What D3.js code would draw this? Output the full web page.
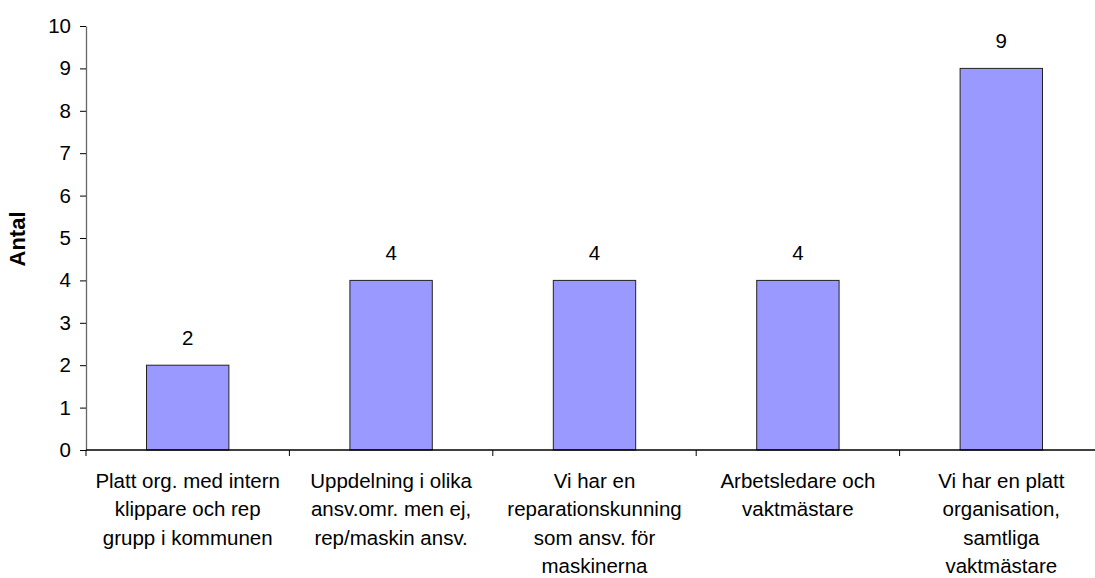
<!DOCTYPE html>
<html><head><meta charset="utf-8">
<script src="https://cdn.jsdelivr.net/npm/d3@7"></script>
<style>
body{margin:0;background:#fff;}
text{font-family:"Liberation Sans",Arial,sans-serif;fill:#000;}
</style></head>
<body><svg id="c" width="1095" height="578"></svg>
<script>
const categories = [
  ["Platt org. med intern","klippare och rep","grupp i kommunen"],
  ["Uppdelning i olika","ansv.omr. men ej,","rep/maskin ansv."],
  ["Vi har en","reparationskunning","som ansv. för","maskinerna"],
  ["Arbetsledare och","vaktmästare"],
  ["Vi har en platt","organisation,","samtliga","vaktmästare"]
];
const values = [2, 4, 4, 4, 9];
const yTicks = [0,1,2,3,4,5,6,7,8,9,10];
const yTitle = "Antal";

const svg = d3.select("#c");
const fs = 20.5;
const x = d3.scaleBand().domain(d3.range(categories.length)).range([86, 1103]).paddingInner(0).paddingOuter(0);
const y = d3.scaleLinear().domain([0, 10]).range([450, 26]);
const barW = x.bandwidth() * 0.405;

// bars
svg.selectAll("rect.bar").data(values).enter().append("rect")
  .attr("x", (d,i) => x(i) + x.bandwidth()/2 - barW/2)
  .attr("y", d => y(d))
  .attr("width", barW)
  .attr("height", d => y(0) - y(d))
  .attr("fill", "#9999FF")
  .attr("stroke", "#222")
  .attr("stroke-width", 1);

// value labels
svg.selectAll("text.val").data(values).enter().append("text")
  .attr("x", (d,i) => x(i) + x.bandwidth()/2)
  .attr("y", d => y(d) - 20)
  .attr("text-anchor", "middle")
  .attr("font-size", fs)
  .text(d => d);

// y axis
const yAxis = d3.axisLeft(y).tickValues(yTicks).tickSize(6).tickPadding(9).tickSizeOuter(0);
const gy = svg.append("g").attr("transform", "translate(86,0)").call(yAxis);
gy.select(".domain").attr("stroke", "#666").attr("stroke-width", 1.3);
gy.selectAll(".tick line").attr("stroke", "#000");
gy.selectAll(".tick text").attr("font-size", fs).attr("font-family", "Liberation Sans, Arial, sans-serif").attr("fill", "#000");

// x axis
const gx = svg.append("g").attr("transform", "translate(0,450)");
gx.append("line").attr("x1", 86).attr("x2", 1103).attr("y1", 0).attr("y2", 0).attr("stroke", "#000").attr("stroke-width", 1.3);
const bounds = d3.range(categories.length + 1).map(i => i < categories.length ? x(i) : x(i-1) + x.bandwidth());
gx.selectAll("line.tk").data(bounds).enter().append("line")
  .attr("x1", d => d).attr("x2", d => d).attr("y1", 0).attr("y2", 6)
  .attr("stroke", "#000");

// category labels
categories.forEach((lines, i) => {
  const t = svg.append("text")
    .attr("text-anchor", "middle")
    .attr("font-size", fs);
  lines.forEach((ln, j) => {
    t.append("tspan").attr("x", x(i) + x.bandwidth()/2).attr("y", 487.5 + j*28.6).text(ln);
  });
});

// y title
svg.append("text")
  .attr("transform", "translate(25,239) rotate(-90)")
  .attr("text-anchor", "middle")
  .attr("font-size", 22)
  .attr("font-weight", "bold")
  .text(yTitle);
</script>
</body></html>
